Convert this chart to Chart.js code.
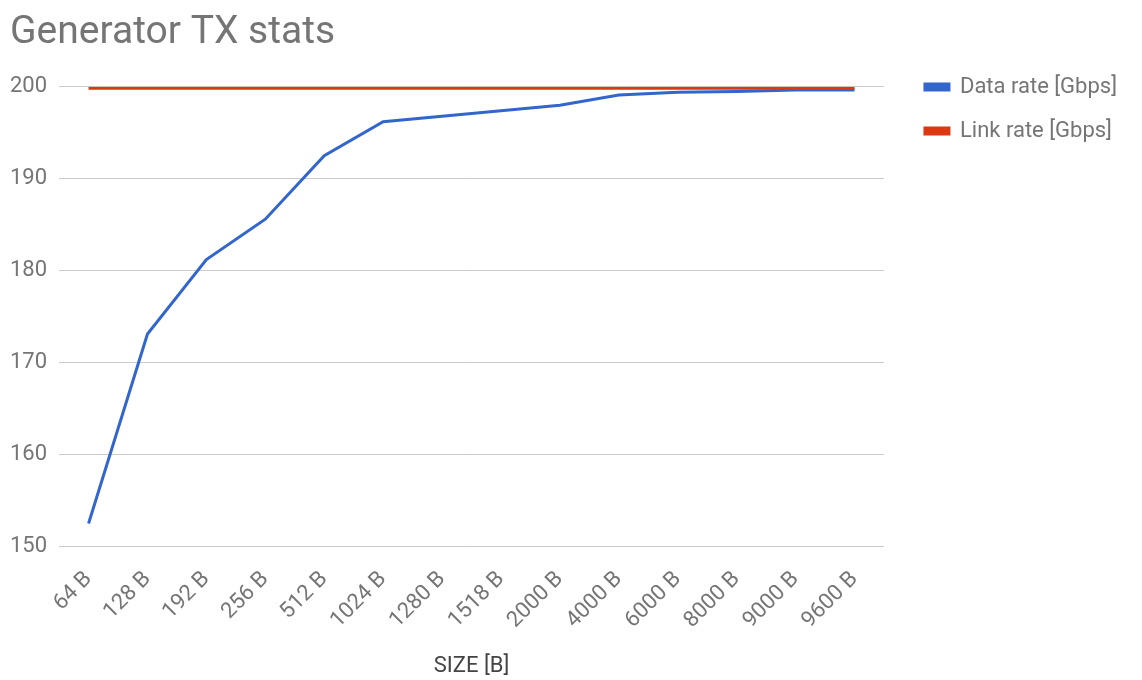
<!DOCTYPE html>
<html lang="en">
<head>
    <meta charset="UTF-8">
    <title>Generator TX stats</title>
    <script src="https://cdn.jsdelivr.net/npm/chart.js"></script>
    <style>
        body {
            margin: 0;
            background-color: #ffffff;
        }
        canvas {
            display: block;
        }
    </style>
</head>
<body>

<canvas id="grafico" width="1142" height="680"></canvas>

<script>
    const sizes = [
        "64 B", "128 B", "192 B", "256 B", "512 B", "1024 B", "1280 B",
        "1518 B", "2000 B", "4000 B", "6000 B", "8000 B", "9000 B", "9600 B"
    ];
    const dataRate = [152.5, 173.1, 181.2, 185.6, 192.5, 196.2, 196.8,
                      197.4, 198.0, 199.1, 199.4, 199.5, 199.65, 199.65];
    const linkRate = [199.85, 199.85, 199.85, 199.85, 199.85, 199.85, 199.85,
                      199.85, 199.85, 199.85, 199.85, 199.85, 199.85, 199.85];
    const yTicks = [150, 160, 170, 180, 190, 200];

    const grigio = '#757575';

    // sposta la legenda un po' a destra del grafico
    const spostaLegenda = {
        id: 'spostaLegenda',
        afterLayout(chart) {
            chart.legend.left += 19;
            chart.legend.right += 19;
        }
    };

    const ctx = document.getElementById('grafico').getContext('2d');
    new Chart(ctx, {
        type: 'line',
        data: {
            labels: sizes,
            datasets: [{
                label: 'Data rate [Gbps]',
                data: dataRate,
                borderColor: '#3366cc',
                backgroundColor: '#3366cc',
                borderWidth: 3,
                pointRadius: 0,
                order: 1
            }, {
                label: 'Link rate [Gbps]',
                data: linkRate,
                borderColor: '#dc3912',
                backgroundColor: '#dc3912',
                borderWidth: 3,
                pointRadius: 0,
                order: 0
            }]
        },
        options: {
            responsive: false,
            animation: false,
            layout: { padding: { left: 10, right: 34, bottom: 0 } },
            scales: {
                x: {
                    offset: true,
                    grid: { display: false },
                    border: { display: false },
                    ticks: {
                        color: grigio,
                        font: { family: 'Roboto', size: 22 },
                        minRotation: 45,
                        maxRotation: 45,
                        padding: 12
                    },
                    title: {
                        display: true,
                        text: 'SIZE [B]',
                        color: '#444',
                        font: { family: 'Roboto', size: 22 },
                        padding: { top: 8, bottom: 0 }
                    }
                },
                y: {
                    min: 150,
                    max: 200,
                    afterBuildTicks: (scale) => {
                        scale.ticks = yTicks.map(v => ({ value: v }));
                    },
                    // il padding dei tick viene contato due volte: ne tolgo uno
                    afterFit: (scale) => { scale.width -= 12; },
                    grid: { color: '#cccccc', drawTicks: false },
                    border: { display: false },
                    ticks: {
                        color: grigio,
                        font: { family: 'Roboto', size: 22 },
                        padding: 12
                    }
                }
            },
            plugins: {
                title: {
                    display: true,
                    text: 'Generator TX stats',
                    align: 'start',
                    color: grigio,
                    font: { family: 'Roboto', size: 39, weight: 'normal' },
                    padding: { top: 10, bottom: 30 }
                },
                legend: {
                    position: 'right',
                    align: 'start',
                    title: {
                        display: true,
                        text: '',
                        font: { size: 12 },
                        padding: { top: 39.6, bottom: 0 }
                    },
                    labels: {
                        boxWidth: 24,
                        boxHeight: 6,
                        padding: 22,
                        color: grigio,
                        font: { family: 'Roboto', size: 22 },
                        sort: (a, b) => a.datasetIndex - b.datasetIndex
                    }
                },
                tooltip: { enabled: false }
            }
        },
        plugins: [spostaLegenda]
    });
</script>

</body>
</html>
